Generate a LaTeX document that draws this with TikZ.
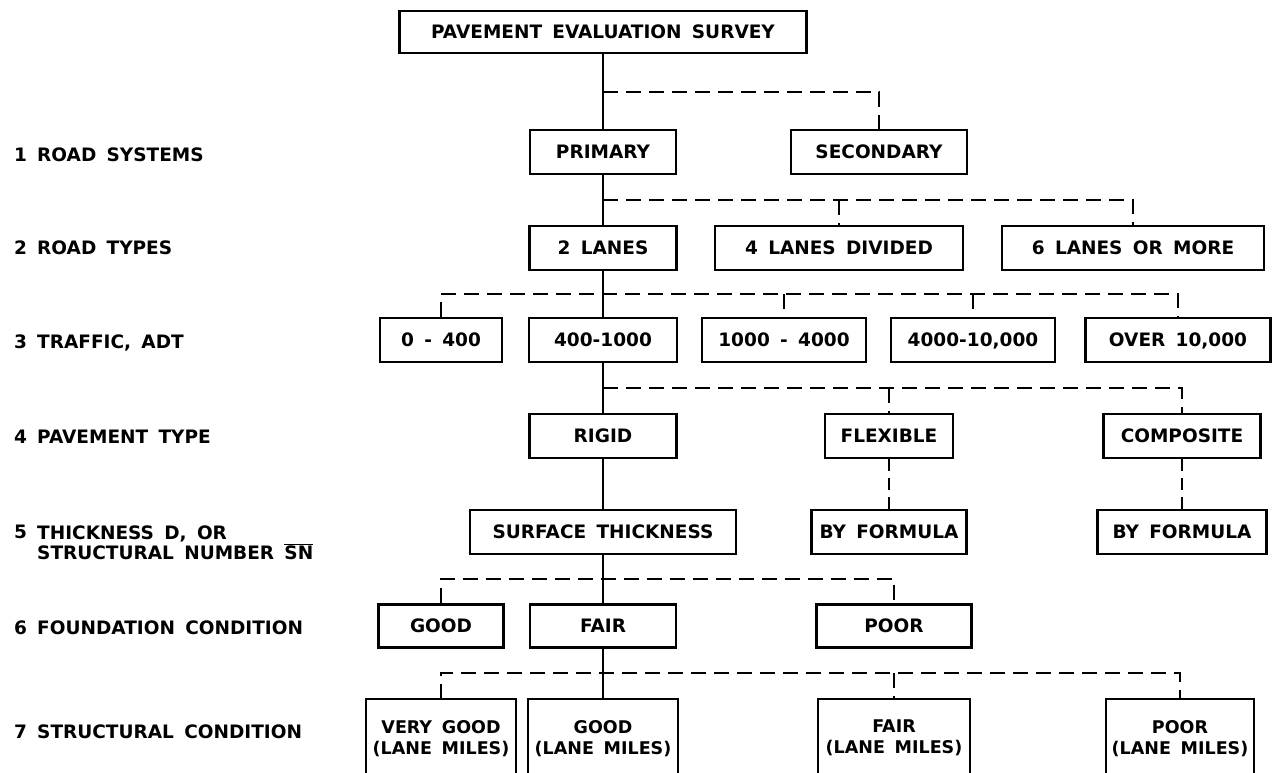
\documentclass[tikz,border=0pt]{standalone}
\usepackage{fontspec}
\setmainfont{DejaVu Sans}[WordSpace=1.6]
\begin{document}
\begin{tikzpicture}[x=1pt,y=-1pt,
  every node/.style={font=\bfseries\fontsize{18.5}{21}\selectfont},
  box/.style={draw, line width=2.1pt, inner sep=0pt, minimum height=44pt, text height=13.5pt, text depth=0pt},
  openbox/.style={draw=none, inner sep=0pt, minimum height=78pt, anchor=north, align=center, font=\bfseries\fontsize{17.5}{21}\selectfont},
  lbl/.style={anchor=west, inner sep=0pt, text height=13.5pt, text depth=0pt},
  lbltwo/.style={anchor=north west, inner sep=0pt, align=left, font=\bfseries\fontsize{18.5}{20}\selectfont},
  trunk/.style={line width=2.5pt},
  dashline/.style={line width=2.3pt, dash pattern=on 15pt off 8pt},
  thindash/.style={line width=1.8pt, dash pattern=on 12pt off 7pt},
  openline/.style={line width=2.1pt}
]
\useasboundingbox (0,0) rectangle (1278,773);

% boxes
\node[box, minimum width=407pt, minimum height=42pt] (pes) at (603,32) {PAVEMENT EVALUATION SURVEY};
\node[box, minimum width=146pt] (prim) at (603,152) {PRIMARY};
\node[box, minimum width=176pt] (sec) at (879,152) {SECONDARY};
\node[box, minimum width=147pt] (two) at (603,248) {2 LANES};
\node[box, minimum width=248pt] (four) at (839,248) {4 LANES DIVIDED};
\node[box, minimum width=262pt] (six) at (1133,248) {6 LANES OR MORE};
\node[box, minimum width=122pt] (ta) at (441,340) {0 - 400};
\node[box, minimum width=148pt] (tb) at (603,340) {400-1000};
\node[box, minimum width=164pt] (tc) at (784,340) {1000 - 4000};
\node[box, minimum width=164pt] (td) at (973,340) {4000-10,000};
\node[box, minimum width=185pt] (te) at (1178,340) {OVER 10,000};
\node[box, minimum width=147pt] (rigid) at (603,436) {RIGID};
\node[box, minimum width=128pt] (flex) at (889,436) {FLEXIBLE};
\node[box, minimum width=157pt] (comp) at (1182,436) {COMPOSITE};
\node[box, minimum width=266pt] (surf) at (603,532) {SURFACE THICKNESS};
\node[box, minimum width=155pt] (bfa) at (889,532) {BY FORMULA};
\node[box, minimum width=169pt] (bfb) at (1182,532) {BY FORMULA};
\node[box, minimum width=125pt, minimum height=43pt] (fgood) at (441,626) {GOOD};
\node[box, minimum width=146pt, minimum height=43pt] (ffair) at (603,626) {FAIR};
\node[box, minimum width=155pt, minimum height=43pt] (fpoor) at (894,626) {POOR};
\node[openbox, minimum width=150pt] (svg) at (441,699) {VERY GOOD\\(LANE MILES)};
\node[openbox, minimum width=149pt] (sgood) at (603,699) {GOOD\\(LANE MILES)};
\node[openbox, minimum width=152pt] (sfair) at (894,699) {FAIR\\(LANE MILES)};
\node[openbox, minimum width=148pt] (spoor) at (1180,699) {POOR\\(LANE MILES)};
\foreach \n in {svg,sgood,sfair,spoor}
  \draw[openline] (\n.south west) -- (\n.north west) -- (\n.north east) -- (\n.south east);

% trunk
\draw[trunk] (pes) -- (prim);
\draw[trunk] (prim) -- (two);
\draw[trunk] (two) -- (tb);
\draw[trunk] (tb) -- (rigid);
\draw[trunk] (rigid) -- (surf);
\draw[trunk] (surf) -- (ffair);
\draw[trunk] (ffair) -- (sgood);

% dashed branches
\coordinate (ja) at (603,92);
\draw[dashline] (ja) -| (sec.north);
\coordinate (jb) at (603,200);
\draw[dashline] (jb) -| (six.north);
\draw[dashline] (jb -| four.north) -- (four.north);
\coordinate (jc) at (603,294);
\draw[dashline] (ta.north) |- (jc) -| (te.north);
\draw[dashline] (jc -| tc.north) -- (tc.north);
\draw[dashline] (jc -| td.north) -- (td.north);
\coordinate (jd) at (603,388);
\draw[dashline] (jd) -| (comp.north);
\draw[dashline] (jd -| flex.north) -- (flex.north);
\draw[thindash] (flex) -- (bfa);
\draw[thindash] (comp) -- (bfb);
\coordinate (jf) at (603,579);
\draw[dashline] (fgood.north) |- (jf) -| (fpoor.north);
\coordinate (jg) at (603,673);
\draw[dashline] (svg.north) |- (jg) -| (spoor.north);
\draw[dashline] (jg -| sfair.north) -- (sfair.north);

% level labels
\node[lbl] (na) at (14,155) {1};
\node[lbl] (la) at (37,155) {ROAD SYSTEMS};
\node[lbl] (nb) at (14,248) {2};
\node[lbl] (lb) at (37,248) {ROAD TYPES};
\node[lbl] (nc) at (14,342) {3};
\node[lbl] (lc) at (37,342) {TRAFFIC, ADT};
\node[lbl] (nd) at (14,437) {4};
\node[lbl] (ld) at (37,437) {PAVEMENT TYPE};
\node[lbl] (ne) at (14,532) {5};
\node[lbltwo] (le) at (37,525.25) {THICKNESS D, OR\\STRUCTURAL NUMBER \ensuremath{\overline{\hbox{SN}}}};
\node[lbl] (nf) at (14,628) {6};
\node[lbl] (lf) at (37,628) {FOUNDATION CONDITION};
\node[lbl] (ng) at (14,732) {7};
\node[lbl] (lg) at (37,732) {STRUCTURAL CONDITION};
\end{tikzpicture}
\end{document}
